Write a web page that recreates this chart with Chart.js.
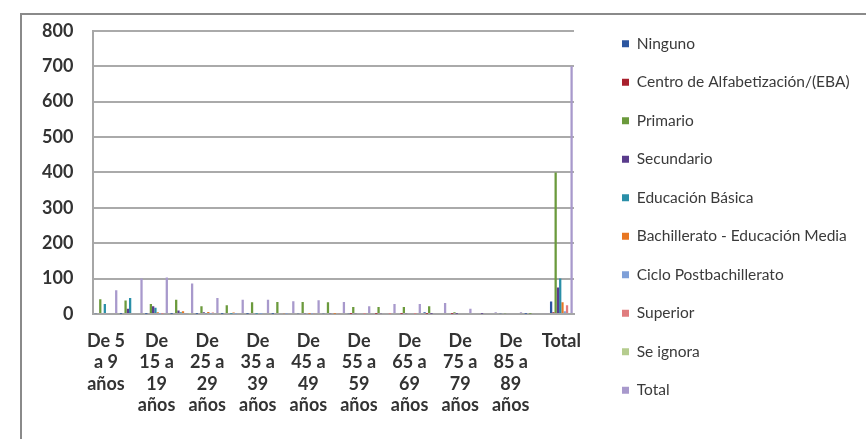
<!DOCTYPE html>
<html>
<head>
<meta charset="utf-8">
<script src="https://cdn.jsdelivr.net/npm/chart.js@4.4.1/dist/chart.umd.min.js"></script>
<style>
  body { margin: 0; background: #fff; }
  #wrap { position: relative; width: 866px; height: 439px; overflow: hidden; }
  #frame { position: absolute; left: 20px; top: 13px; width: 900px; height: 500px;
           border-left: 2px solid #8a8a8a; border-top: 2px solid #8a8a8a; }
  #myChart { position: absolute; left: 0; top: 0; }
</style>
</head>
<body>
<div id="wrap">
  <div id="frame"></div>
  <canvas id="myChart" width="866" height="439"></canvas>
</div>
<script>
// categorias (solo se muestra una de cada dos en el eje)
var categorias = ['De 5 a 9 años', 'De 10 a 14 años', 'De 15 a 19 años', 'De 20 a 24 años',
  'De 25 a 29 años', 'De 30 a 34 años', 'De 35 a 39 años', 'De 40 a 44 años',
  'De 45 a 49 años', 'De 50 a 54 años', 'De 55 a 59 años', 'De 60 a 64 años',
  'De 65 a 69 años', 'De 70 a 74 años', 'De 75 a 79 años', 'De 80 a 84 años',
  'De 85 a 89 años', 'De 90 a más años', 'Total'];

var etiquetas = [
  ['De 5', 'a 9', 'años'], '', ['De', '15 a', '19', 'años'], '',
  ['De', '25 a', '29', 'años'], '', ['De', '35 a', '39', 'años'], '',
  ['De', '45 a', '49', 'años'], '', ['De', '55 a', '59', 'años'], '',
  ['De', '65 a', '69', 'años'], '', ['De', '75 a', '79', 'años'], '',
  ['De', '85 a', '89', 'años'], '', 'Total'
];

var yTicks = [0, 100, 200, 300, 400, 500, 600, 700, 800];

var ninguno      = [2, 1, 1, 1, 1, 1, 1, 1, 2, 2, 2, 3, 3, 5, 3, 3, 2, 1, 35];
var centro       = [0, 0, 0, 0, 0, 0, 0, 0, 0, 0, 1, 1, 1, 1, 1, 0, 0, 0, 5];
var primario     = [42, 38, 28, 40, 22, 25, 33, 34, 34, 33, 20, 20, 20, 22, 5, 3, 2, 1, 400];
var secundario   = [0, 15, 22, 10, 5, 3, 3, 3, 2, 2, 2, 2, 2, 1, 1, 1, 0, 0, 75];
var eduBasica    = [28, 45, 18, 5, 2, 1, 1, 0, 0, 0, 0, 0, 0, 0, 0, 0, 0, 0, 100];
var bachillerato = [0, 3, 5, 8, 6, 4, 3, 2, 1, 1, 0, 0, 0, 0, 0, 0, 0, 0, 33];
var cicloPost    = [0, 0, 1, 2, 1, 1, 1, 1, 1, 0, 0, 0, 0, 0, 0, 0, 0, 0, 8];
var superior     = [0, 0, 1, 3, 4, 3, 3, 3, 2, 2, 1, 1, 1, 0, 0, 0, 0, 0, 25];
var seIgnora     = [0, 0, 0, 1, 0, 0, 0, 0, 0, 0, 0, 0, 0, 0, 0, 0, 0, 0, 3];
var total        = [67, 100, 103, 86, 45, 40, 40, 36, 39, 34, 22, 28, 28, 31, 15, 5, 5, 2, 700];

var series = [
  ['Ninguno', ninguno, '#2c56a0'],
  ['Centro de Alfabetización/(EBA)', centro, '#a8202d'],
  ['Primario', primario, '#6b9a3c'],
  ['Secundario', secundario, '#5a3c8c'],
  ['Educación Básica', eduBasica, '#2a8fa8'],
  ['Bachillerato - Educación Media', bachillerato, '#e87722'],
  ['Ciclo Postbachillerato', cicloPost, '#7fa0d8'],
  ['Superior', superior, '#e07c7e'],
  ['Se ignora', seIgnora, '#b5cc8e'],
  ['Total', total, '#a899cc']
];

// la leyenda de la derecha necesita mas ancho del que deja el layout
var legendWidth = {
  id: 'legendWidth',
  beforeLayout: function (chart) {
    var lg = chart.legend;
    if (lg && !lg._anchoFijo) {
      var fit = lg.fit.bind(lg);
      lg.fit = function () { fit(); this.width = 259; };
      lg._anchoFijo = true;
    }
  }
};

var ctx = document.getElementById('myChart').getContext('2d');
var myChart = new Chart(ctx, {
  type: 'bar',
  data: {
    labels: categorias,
    datasets: series.map(function (s) {
      return {
        label: s[0],
        data: s[1],
        backgroundColor: s[2],
        borderWidth: 0,
        xAxisID: 'x',
        yAxisID: 'y',
        categoryPercentage: 0.9,
        barPercentage: 1.0
      };
    })
  },
  plugins: [legendWidth],
  options: {
    responsive: false,
    animation: false,
    layout: { padding: { left: 22, top: 13, right: 8, bottom: 17 } },
    plugins: {
      tooltip: { enabled: false },
      legend: {
        position: 'right',
        align: 'start',
        labels: {
          boxWidth: 7,
          boxHeight: 7,
          padding: 23,
          color: '#3a3a3a',
          font: { family: 'Lato', size: 15.5 }
        }
      }
    },
    scales: {
      x: {
        grid: { display: false },
        border: { color: '#a6a6a6', width: 2 },
        afterFit: function (axis) { axis.height = 108; },
        ticks: {
          autoSkip: false,
          maxRotation: 0,
          minRotation: 0,
          padding: 8,
          color: '#333',
          font: { family: 'Lato', size: 18, weight: 'bold', lineHeight: 1.2 },
          callback: function (v, i) { return etiquetas[i]; }
        }
      },
      y: {
        min: 0,
        max: 800,
        afterBuildTicks: function (axis) {
          axis.ticks = yTicks.map(function (v) { return { value: v }; });
        },
        grid: { color: '#aaaaaa', lineWidth: 2, drawTicks: false },
        border: { color: '#a6a6a6', width: 2 },
        ticks: {
          padding: 20,
          color: '#333',
          font: { family: 'Lato', size: 18, weight: 'bold' }
        }
      },
      // ejes vacios solo para dejar espacio arriba y a la derecha
      xTop: {
        type: 'linear',
        axis: 'x',
        position: 'top',
        grid: { display: false },
        border: { display: false },
        ticks: { display: false },
        afterFit: function (axis) { axis.height = 14; }
      },
      yRight: {
        type: 'linear',
        axis: 'y',
        position: 'right',
        grid: { display: false },
        border: { display: false },
        ticks: { display: false },
        afterFit: function (axis) { axis.width = 25; }
      }
    }
  }
});
</script>
</body>
</html>
